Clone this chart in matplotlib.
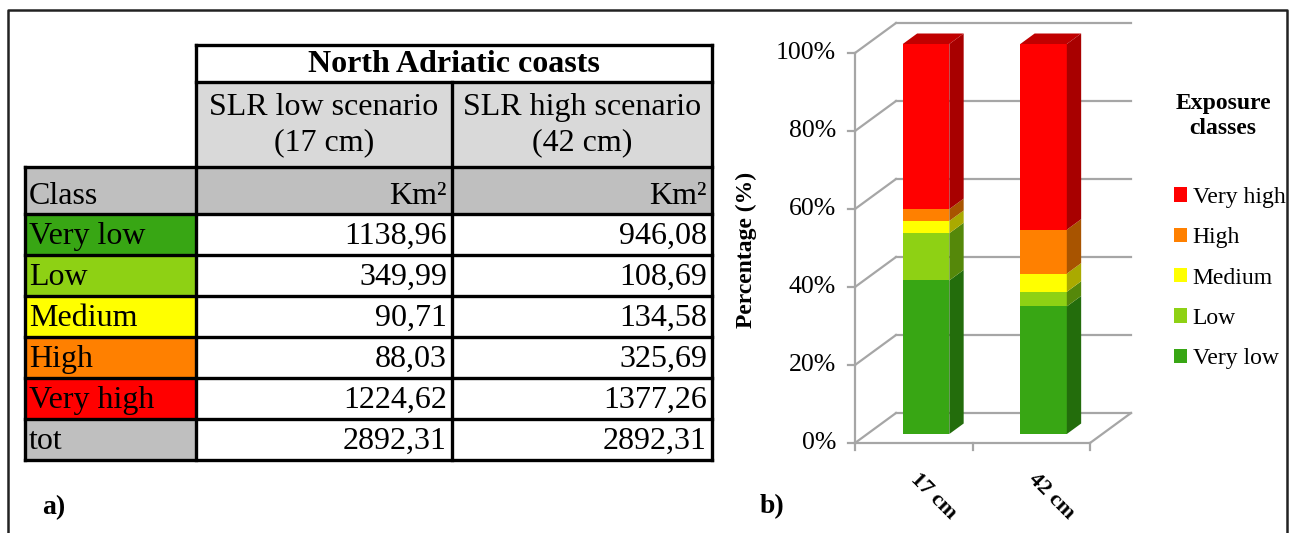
import numpy as np
import matplotlib.pyplot as plt
from matplotlib.patches import Rectangle, Polygon, Patch

plt.rcParams['font.family'] = ['Liberation Serif', 'DejaVu Serif']

# Data
classes = ['Very low', 'Low', 'Medium', 'High', 'Very high']
scenarios = ['17 cm', '42 cm']
area_low = [1138.96, 349.99, 90.71, 88.03, 1224.62]
area_high = [946.08, 108.69, 134.58, 325.69, 1377.26]
total_low = 2892.31
total_high = 2892.31
y_ticks = [0, 20, 40, 60, 80, 100]

face_colors = ['#38A614', '#8ED114', '#FFFF00', '#FF8000', '#FF0000']
side_colors = ['#236D0C', '#55880A', '#AAAA00', '#A85400', '#A80000']
top_red = '#C00000'

W, H = 1291, 533
fig = plt.figure(figsize=(W / 100, H / 100), dpi=100)

# ---------- background / table (pixel coordinates) ----------
bg = fig.add_axes([0, 0, 1, 1])
bg.set_xlim(0, W)
bg.set_ylim(H, 0)
bg.axis('off')

# outer frame (open at the bottom)
bg.plot([8, 8, 1287, 1287], [H, 10, 10, H], color='#222222', lw=1.8)

cx = [25, 196, 452, 712]
r_head = (45, 82)
r_slr = (82, 167)
r_class = (167, 214)
row_edges = [214, 255, 296, 337, 378, 419, 460]

def cell(x0, x1, y0, y1, fc):
    bg.add_patch(Rectangle((x0, y0), x1 - x0, y1 - y0, facecolor=fc,
                           edgecolor='none', zorder=1))

cell(cx[1], cx[3], *r_head, 'white')
cell(cx[1], cx[2], *r_slr, '#D9D9D9')
cell(cx[2], cx[3], *r_slr, '#D9D9D9')
cell(cx[0], cx[3], *r_class, '#BFBFBF')
row_labels = classes + ['tot']
row_fill = face_colors + ['#BFBFBF']
for i in range(6):
    cell(cx[0], cx[1], row_edges[i], row_edges[i + 1], row_fill[i])

lk = dict(color='black', lw=2.4, zorder=3, solid_capstyle='projecting')
bg.plot([cx[1], cx[3]], [r_head[0], r_head[0]], **lk)
bg.plot([cx[1], cx[3]], [r_head[1], r_head[1]], **lk)
bg.plot([cx[1], cx[1]], [r_head[0], r_class[0]], **lk)
bg.plot([cx[3], cx[3]], [r_head[0], row_edges[-1]], **lk)
bg.plot([cx[2], cx[2]], [r_slr[0], row_edges[-1]], **lk)
bg.plot([cx[1], cx[1]], [r_class[0], row_edges[-1]], **lk)
bg.plot([cx[0], cx[0]], [r_class[0], row_edges[-1]], **lk)
for yy in [r_class[0]] + row_edges:
    bg.plot([cx[0], cx[3]], [yy, yy], **lk)

fs = 23
bg.text((cx[1] + cx[3]) / 2, 64, 'North Adriatic coasts', ha='center',
        va='center', fontsize=fs, fontweight='bold', zorder=4)
bg.text((cx[1] + cx[2]) / 2, 125, 'SLR low scenario\n(17 cm)', ha='center',
        va='center', fontsize=fs, linespacing=1.25, zorder=4)
bg.text((cx[2] + cx[3]) / 2, 125, 'SLR high scenario\n(42 cm)', ha='center',
        va='center', fontsize=fs, linespacing=1.25, zorder=4)
bg.text(cx[0] + 4, 197, 'Class', ha='left', va='center', fontsize=fs, zorder=4)
bg.text(cx[2] - 5, 196, 'Km²', ha='right', va='center', fontsize=fs, zorder=4)
bg.text(cx[3] - 5, 196, 'Km²', ha='right', va='center', fontsize=fs, zorder=4)

col_low = area_low + [total_low]
col_high = area_high + [total_high]
for i in range(6):
    yc = (row_edges[i] + row_edges[i + 1]) / 2 + 2
    bg.text(cx[0] + 4, yc, row_labels[i], ha='left', va='center', fontsize=fs, zorder=4)
    bg.text(cx[2] - 5, yc, f'{col_low[i]:.2f}'.replace('.', ','), ha='right',
            va='center', fontsize=fs, zorder=4)
    bg.text(cx[3] - 5, yc, f'{col_high[i]:.2f}'.replace('.', ','), ha='right',
            va='center', fontsize=fs, zorder=4)

bg.text(42, 508, 'a)', ha='left', va='center', fontsize=20, fontweight='bold')
bg.text(760, 507, 'b)', ha='left', va='center', fontsize=20, fontweight='bold')

# ---------- pseudo-3D stacked bar chart ----------
# front plane: x 0..2 -> px 855..1090, y 0..100 -> px 443..53
ox, oy, sx, sy = 855, 443, 117.5, 3.9
L, R, T, B = 830, 1150, 12, 530
ax = fig.add_axes([L / W, (H - B) / H, (R - L) / W, (B - T) / H])
ax.set_xlim((L - ox) / sx, (R - ox) / sx)
ax.set_ylim((oy - B) / sy, (oy - T) / sy)
ax.axis('off')

DX, DY = 41 / sx, 30 / sy       # full depth of the chart box
n = len(scenarios)
wall = dict(color='#A6A6A6', lw=1.6, zorder=1)
for yv in y_ticks:
    ax.plot([0, DX], [yv, yv + DY], **wall)
    ax.plot([DX, n + DX], [yv + DY, yv + DY], **wall)
ax.plot([n, n + DX], [0, DY], **wall)
ax.plot([0, n], [0, 0], **wall)
ax.plot([0, 0], [0, 100], **wall)
for yv in y_ticks:
    ax.plot([-7 / sx, 0], [yv, yv], **wall)
    ax.text(-19 / sx, yv, f'{yv}%', ha='right', va='center', fontsize=18.5)
for k in range(n + 1):
    ax.plot([k, k], [0, -7 / sy], **wall)

ax.text(-109 / sx, (oy - 250) / sy, 'Percentage (%)', rotation=90, ha='center',
        va='center', fontsize=17, fontweight='bold')

d0, d1 = 0.3, 0.65          # depth range of the bars
bw = 0.396                  # bar width in category units
pcts = [np.array(area_low) / total_low * 100, np.array(area_high) / total_high * 100]
for i, p in enumerate(pcts):
    xl = i + 0.5 - bw / 2 + d0 * DX
    xr = xl + bw
    base = d0 * DY
    ddx, ddy = (d1 - d0) * DX, (d1 - d0) * DY
    bottom = 0
    for j, v in enumerate(p):
        y0, y1 = base + bottom, base + bottom + v
        ax.add_patch(Polygon([(xl, y0), (xr, y0), (xr, y1), (xl, y1)],
                             closed=True, facecolor=face_colors[j],
                             edgecolor='none', zorder=3))
        ax.add_patch(Polygon([(xr, y0), (xr + ddx, y0 + ddy), (xr + ddx, y1 + ddy),
                              (xr, y1)], closed=True, facecolor=side_colors[j],
                             edgecolor='none', zorder=3))
        bottom += v
    ytop = base + bottom
    ax.add_patch(Polygon([(xl, ytop), (xr, ytop), (xr + ddx, ytop + ddy),
                          (xl + ddx, ytop + ddy)], closed=True, facecolor=top_red,
                         edgecolor='none', zorder=3))
    ax.text(i + 0.5 + 20 / sx, -53 / sy, scenarios[i], rotation=-45, ha='center',
            va='center', fontsize=16, fontweight='bold')

# legend
handles = [Patch(facecolor=face_colors[j], edgecolor='none') for j in range(4, -1, -1)]
labels = [classes[j] for j in range(4, -1, -1)]
fig.legend(handles, labels, loc='upper left', bbox_to_anchor=(1162 / W, 1 - 175 / H),
           frameon=False, fontsize=17, handlelength=0.55, handleheight=0.55,
           handletextpad=0.25, labelspacing=0.82, borderpad=0)
fig.text(1223 / W, 1 - 116 / H, 'Exposure\nclasses', ha='center', va='center',
         fontsize=17, fontweight='bold', linespacing=1.25)

fig.savefig('out.png', dpi=100)
